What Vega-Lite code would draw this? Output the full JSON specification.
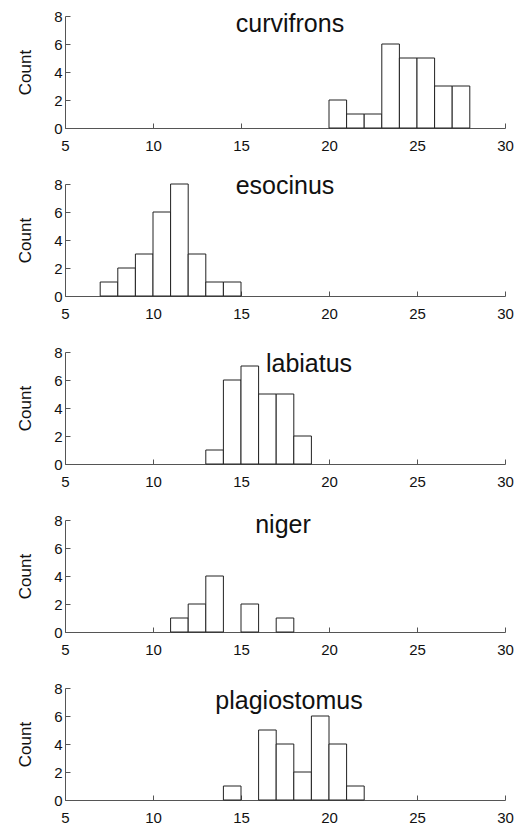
{
  "$schema": "https://vega.github.io/schema/vega-lite/v6.json",
  "padding": {"left": 16, "top": 9, "right": 6, "bottom": 5},
  "background": "white",
  "data": {"values": [
    {"species": "curvifrons", "start": 20, "end": 21, "count": 2},
    {"species": "curvifrons", "start": 21, "end": 22, "count": 1},
    {"species": "curvifrons", "start": 22, "end": 23, "count": 1},
    {"species": "curvifrons", "start": 23, "end": 24, "count": 6},
    {"species": "curvifrons", "start": 24, "end": 25, "count": 5},
    {"species": "curvifrons", "start": 25, "end": 26, "count": 5},
    {"species": "curvifrons", "start": 26, "end": 27, "count": 3},
    {"species": "curvifrons", "start": 27, "end": 28, "count": 3},
    {"species": "esocinus", "start": 7, "end": 8, "count": 1},
    {"species": "esocinus", "start": 8, "end": 9, "count": 2},
    {"species": "esocinus", "start": 9, "end": 10, "count": 3},
    {"species": "esocinus", "start": 10, "end": 11, "count": 6},
    {"species": "esocinus", "start": 11, "end": 12, "count": 8},
    {"species": "esocinus", "start": 12, "end": 13, "count": 3},
    {"species": "esocinus", "start": 13, "end": 14, "count": 1},
    {"species": "esocinus", "start": 14, "end": 15, "count": 1},
    {"species": "labiatus", "start": 13, "end": 14, "count": 1},
    {"species": "labiatus", "start": 14, "end": 15, "count": 6},
    {"species": "labiatus", "start": 15, "end": 16, "count": 7},
    {"species": "labiatus", "start": 16, "end": 17, "count": 5},
    {"species": "labiatus", "start": 17, "end": 18, "count": 5},
    {"species": "labiatus", "start": 18, "end": 19, "count": 2},
    {"species": "niger", "start": 11, "end": 12, "count": 1},
    {"species": "niger", "start": 12, "end": 13, "count": 2},
    {"species": "niger", "start": 13, "end": 14, "count": 4},
    {"species": "niger", "start": 15, "end": 16, "count": 2},
    {"species": "niger", "start": 17, "end": 18, "count": 1},
    {"species": "plagiostomus", "start": 14, "end": 15, "count": 1},
    {"species": "plagiostomus", "start": 16, "end": 17, "count": 5},
    {"species": "plagiostomus", "start": 17, "end": 18, "count": 4},
    {"species": "plagiostomus", "start": 18, "end": 19, "count": 2},
    {"species": "plagiostomus", "start": 19, "end": 20, "count": 6},
    {"species": "plagiostomus", "start": 20, "end": 21, "count": 4},
    {"species": "plagiostomus", "start": 21, "end": 22, "count": 1}
  ]},
  "config": {
    "font": "Liberation Sans",
    "view": {"stroke": null},
    "axis": {
      "grid": false,
      "domainColor": "#555",
      "tickColor": "#555",
      "labelColor": "#111",
      "titleColor": "#111",
      "labelFont": "Liberation Sans",
      "titleFont": "Liberation Sans",
      "labelFontSize": 15,
      "titleFontSize": 17,
      "titleFontWeight": "normal",
      "tickSize": -5,
      "labelFlush": false,
      "labelOverlap": false
    },
    "axisX": {"labelPadding": 15},
    "axisY": {"labelPadding": 8, "titlePadding": 19},
    "title": {"font": "Liberation Sans", "fontSize": 25, "fontWeight": "normal", "color": "#111", "frame": "group", "anchor": "middle", "baseline": "alphabetic"}
  },
  "spacing": 56,
  "bounds": "flush",
  "vconcat": [
    {
      "width": 440, "height": 112,
      "title": {"text": "curvifrons", "offset": -28, "dx": 5},
      "transform": [{"filter": "datum.species === 'curvifrons'"}],
      "mark": {"type": "bar", "fill": "white", "stroke": "#222", "strokeWidth": 1},
      "encoding": {
        "x": {"field": "start", "type": "quantitative", "scale": {"domain": [5, 30], "nice": false}, "axis": {"values": [5, 10, 15, 20, 25, 30], "title": null}},
        "x2": {"field": "end"},
        "y": {"field": "count", "type": "quantitative", "scale": {"domain": [0, 8], "nice": false}, "axis": {"values": [0, 2, 4, 6, 8], "title": "Count"}},
        "y2": {"datum": 0}
      }
    },
    {
      "width": 440, "height": 112,
      "title": {"text": "esocinus", "offset": -22, "dx": 0},
      "transform": [{"filter": "datum.species === 'esocinus'"}],
      "mark": {"type": "bar", "fill": "white", "stroke": "#222", "strokeWidth": 1},
      "encoding": {
        "x": {"field": "start", "type": "quantitative", "scale": {"domain": [5, 30], "nice": false}, "axis": {"values": [5, 10, 15, 20, 25, 30], "title": null}},
        "x2": {"field": "end"},
        "y": {"field": "count", "type": "quantitative", "scale": {"domain": [0, 8], "nice": false}, "axis": {"values": [0, 2, 4, 6, 8], "title": "Count"}},
        "y2": {"datum": 0}
      }
    },
    {
      "width": 440, "height": 112,
      "title": {"text": "labiatus", "offset": -32, "dx": 24},
      "transform": [{"filter": "datum.species === 'labiatus'"}],
      "mark": {"type": "bar", "fill": "white", "stroke": "#222", "strokeWidth": 1},
      "encoding": {
        "x": {"field": "start", "type": "quantitative", "scale": {"domain": [5, 30], "nice": false}, "axis": {"values": [5, 10, 15, 20, 25, 30], "title": null}},
        "x2": {"field": "end"},
        "y": {"field": "count", "type": "quantitative", "scale": {"domain": [0, 8], "nice": false}, "axis": {"values": [0, 2, 4, 6, 8], "title": "Count"}},
        "y2": {"datum": 0}
      }
    },
    {
      "width": 440, "height": 112,
      "title": {"text": "niger", "offset": -25, "dx": -2},
      "transform": [{"filter": "datum.species === 'niger'"}],
      "mark": {"type": "bar", "fill": "white", "stroke": "#222", "strokeWidth": 1},
      "encoding": {
        "x": {"field": "start", "type": "quantitative", "scale": {"domain": [5, 30], "nice": false}, "axis": {"values": [5, 10, 15, 20, 25, 30], "title": null}},
        "x2": {"field": "end"},
        "y": {"field": "count", "type": "quantitative", "scale": {"domain": [0, 8], "nice": false}, "axis": {"values": [0, 2, 4, 6, 8], "title": "Count"}},
        "y2": {"datum": 0}
      }
    },
    {
      "width": 440, "height": 112,
      "title": {"text": "plagiostomus", "offset": -33, "dx": 4},
      "transform": [{"filter": "datum.species === 'plagiostomus'"}],
      "mark": {"type": "bar", "fill": "white", "stroke": "#222", "strokeWidth": 1},
      "encoding": {
        "x": {"field": "start", "type": "quantitative", "scale": {"domain": [5, 30], "nice": false}, "axis": {"values": [5, 10, 15, 20, 25, 30], "title": null}},
        "x2": {"field": "end"},
        "y": {"field": "count", "type": "quantitative", "scale": {"domain": [0, 8], "nice": false}, "axis": {"values": [0, 2, 4, 6, 8], "title": "Count"}},
        "y2": {"datum": 0}
      }
    }
  ]
}
